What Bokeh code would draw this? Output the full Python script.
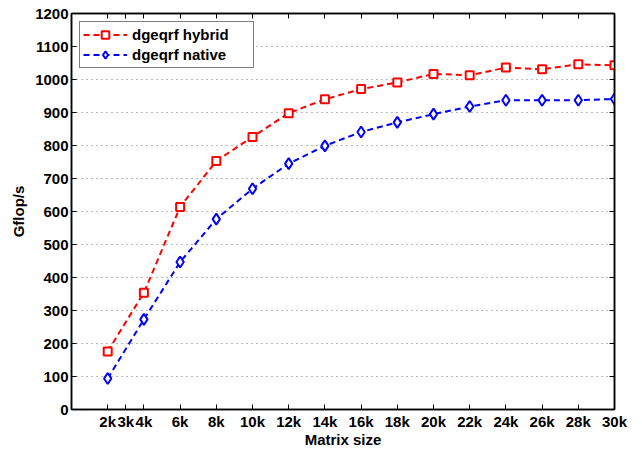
from bokeh.plotting import figure
from bokeh.models import FixedTicker, LinearAxis, Range1d, Legend, LegendItem
from bokeh.embed import file_html
from bokeh.resources import INLINE

sizes = [2000, 4000, 6000, 8000, 10000, 12000, 14000, 16000, 18000, 20000, 22000, 24000, 26000, 28000, 30000]
hybrid = [176, 354, 614, 753, 826, 898, 940, 971, 991, 1017, 1013, 1036, 1031, 1046, 1043]
native = [94, 273, 447, 577, 669, 745, 799, 841, 870, 895, 918, 937, 937, 937, 941]

x_ticks = [2000, 3000, 4000, 6000, 8000, 10000, 12000, 14000, 16000, 18000, 20000, 22000, 24000, 26000, 28000, 30000]
x_labels = ["2k", "3k", "4k", "6k", "8k", "10k", "12k", "14k", "16k", "18k", "20k", "22k", "24k", "26k", "28k", "30k"]
y_ticks = list(range(0, 1201, 100))

FONT = "Liberation Sans"
FS = "15px"

p = figure(width=642, height=450, output_backend="svg", toolbar_location=None,
           x_range=Range1d(0, 30000), y_range=Range1d(0, 1200),
           min_border_left=71, min_border_right=28, min_border_top=13, min_border_bottom=39)

p.background_fill_color = "white"
p.border_fill_color = "white"
p.outline_line_color = "black"
p.outline_line_width = 1.5

overrides = {t: l for t, l in zip(x_ticks, x_labels)}

for ax in [p.xaxis[0], p.yaxis[0]]:
    ax.major_tick_in = 5
    ax.major_tick_out = 0
    ax.minor_tick_in = 0
    ax.minor_tick_out = 0
    ax.axis_line_width = 1.5
    ax.axis_line_color = "black"
    ax.major_tick_line_color = "black"
    ax.major_tick_line_width = 1
    ax.major_label_text_font = FONT
    ax.major_label_text_font_style = "bold"
    ax.major_label_text_font_size = FS
    ax.major_label_text_color = "black"
    ax.axis_label_text_font = FONT
    ax.axis_label_text_font_style = "bold"
    ax.axis_label_text_font_size = FS
    ax.axis_label_text_color = "black"

p.xaxis[0].ticker = FixedTicker(ticks=x_ticks)
p.xaxis[0].major_label_overrides = overrides
p.xaxis[0].axis_label = "Matrix size"
p.xaxis[0].major_label_standoff = 3
p.xaxis[0].axis_label_standoff = -2
p.yaxis[0].ticker = FixedTicker(ticks=y_ticks)
p.yaxis[0].axis_label = "Gflop/s"
p.yaxis[0].major_label_standoff = 3
p.yaxis[0].axis_label_standoff = 5

top = LinearAxis(ticker=FixedTicker(ticks=x_ticks), major_label_text_font_size="0px",
                 major_tick_in=5, major_tick_out=0, minor_tick_in=0, minor_tick_out=0,
                 major_label_standoff=0, axis_line_width=1.5, axis_line_color="black",
                 major_tick_line_color="black")
right = LinearAxis(ticker=FixedTicker(ticks=y_ticks), major_label_text_font_size="0px",
                   major_tick_in=5, major_tick_out=0, minor_tick_in=0, minor_tick_out=0,
                   major_label_standoff=0, axis_line_width=1.5, axis_line_color="black",
                   major_tick_line_color="black")
p.add_layout(top, "above")
p.add_layout(right, "right")

p.xgrid.visible = False
p.ygrid.ticker = FixedTicker(ticks=y_ticks[1:])
p.ygrid.grid_line_color = "#777777"
p.ygrid.grid_line_dash = "1 4"
p.ygrid.grid_line_width = 1

l1 = p.line(sizes, hybrid, line_color="red", line_width=2, line_dash="6 4")
s1 = p.scatter(sizes, hybrid, marker="square", size=8, line_color="red", line_width=2, fill_color="white")
l2 = p.line(sizes, native, line_color="blue", line_width=2, line_dash="6 4")
s2 = p.scatter(sizes, native, marker="diamond", size=11, line_color="blue", line_width=2, fill_color="white")

legend = Legend(items=[LegendItem(label="dgeqrf hybrid", renderers=[l1, s1]),
                       LegendItem(label="dgeqrf native", renderers=[l2, s2])],
                location="top_left")
legend.border_line_color = "black"
legend.border_line_width = 1.5
legend.label_text_font = FONT
legend.label_text_font_style = "bold"
legend.label_text_font_size = FS
legend.label_text_color = "black"
legend.glyph_width = 44
legend.glyph_height = 19
legend.label_height = 19
legend.label_width = 118
legend.spacing = 1
legend.padding = 3
legend.margin = 8
legend.label_standoff = 5
p.add_layout(legend)

open("out.html", "w").write(file_html(p, INLINE))
